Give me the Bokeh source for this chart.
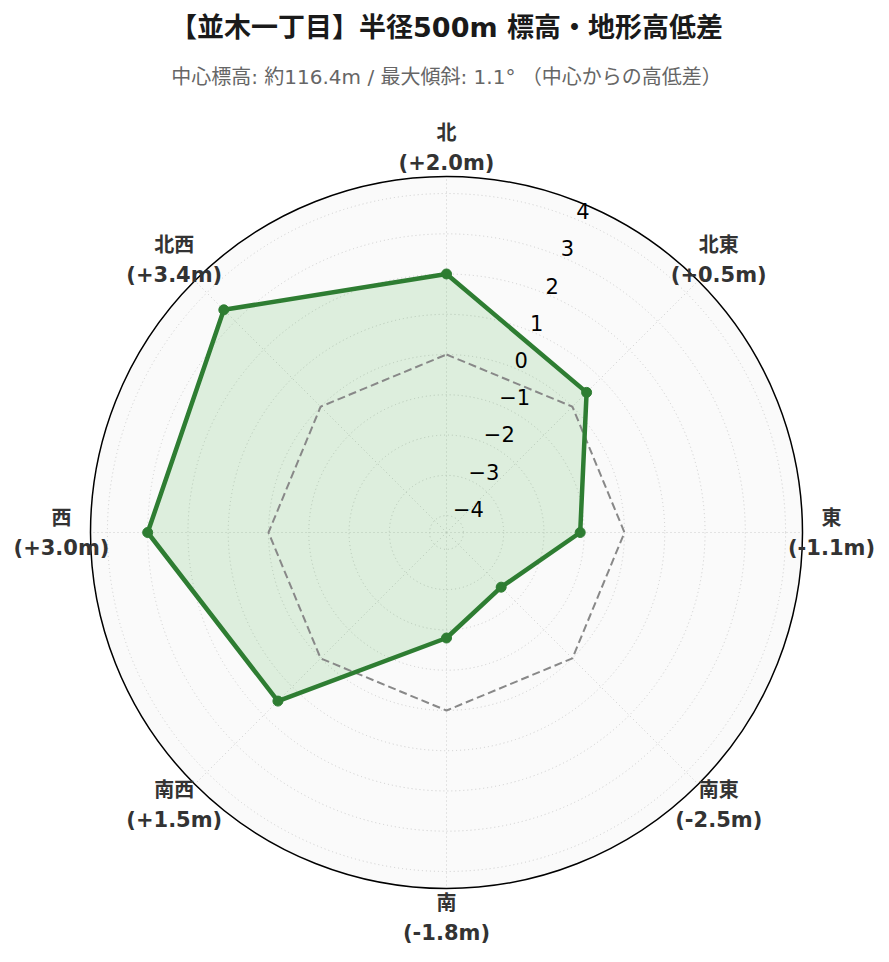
import numpy as np
from bokeh.plotting import figure
from bokeh.models import Range1d
from bokeh.embed import file_html
from bokeh.resources import INLINE
from bokeh.core.properties import value

# ---- data ----
title_text = "【並木一丁目】半径500m 標高・地形高低差"
subtitle_text = "中心標高: 約116.4m / 最大傾斜: 1.1° （中心からの高低差）"
directions = ["北", "北東", "東", "南東", "南", "南西", "西", "北西"]
diffs = [2.0, 0.5, -1.1, -2.5, -1.8, 1.5, 3.0, 3.4]
radial_ticks = [-4, -3, -2, -1, 0, 1, 2, 3, 4]
reference_level = 0.0
r_limit = 4.42

# ---- layout ----
W, H = 881, 954
CX, CY = 446, 532          # polar centre, measured from figure's top-left
R = 356                    # outer radius in px
LABEL_R = 385
TICK_ANGLE = np.deg2rad(22.5)

GREEN = "#2e7d32"
FONT = "DejaVu Sans, Noto Sans CJK JP"

p = figure(width=W, height=H,
           x_range=Range1d(-CX, W - CX), y_range=Range1d(CY - H, CY),
           x_axis_location=None, y_axis_location=None,
           output_backend="svg", toolbar_location=None, min_border=0)
p.grid.visible = False
p.outline_line_color = None
p.background_fill_color = "white"
p.border_fill_color = "white"


def rad(v):
    return (np.asarray(v, dtype=float) + r_limit) / (2 * r_limit) * R


n = len(directions)
theta = np.arange(n) * 2 * np.pi / n
sin_t, cos_t = np.sin(theta), np.cos(theta)

# background disc
p.circle(x=[0], y=[0], radius=R, fill_color="#fafafa", line_color=None)

# grid circles and spokes
gr = rad(radial_ticks)
p.circle(x=np.zeros(len(gr)), y=np.zeros(len(gr)), radius=gr,
         fill_color=None, line_color="#cccccc", line_width=1, line_dash="1 3")
p.segment(x0=np.zeros(n), y0=np.zeros(n), x1=R * sin_t, y1=R * cos_t,
          line_color="#cccccc", line_width=1, line_dash="1 3")

# data polygon
rd = rad(diffs)
xs, ys = rd * sin_t, rd * cos_t
p.patch(x=xs, y=ys, fill_color="#4caf50", fill_alpha=0.17, line_color=None)

# reference (0 m) polygon
rr = rad(np.full(n, reference_level))
p.line(x=np.append(rr * sin_t, rr * sin_t[0]), y=np.append(rr * cos_t, rr * cos_t[0]),
       line_color="#888888", line_width=2, line_dash="8 4")

p.line(x=np.append(xs, xs[0]), y=np.append(ys, ys[0]), line_color=GREEN, line_width=4.5,
       line_join="round")
p.scatter(x=xs, y=ys, size=10, fill_color=GREEN, line_color=GREEN)

# outer ring
p.circle(x=[0], y=[0], radius=R, fill_color=None, line_color="black", line_width=1.5)

# radial tick labels
p.text(x=gr * np.sin(TICK_ANGLE), y=gr * np.cos(TICK_ANGLE),
       text=[str(t).replace("-", "\u2212") for t in radial_ticks],
       text_align="left", text_baseline="bottom",
       text_font=value(FONT), text_font_size="21px", text_color="black")

# angular labels
lx, ly = LABEL_R * sin_t, LABEL_R * cos_t
p.text(x=lx, y=ly + 15, text=directions, text_align="center", text_baseline="middle",
       text_font=value(FONT), text_font_style="bold", text_font_size="20px", text_color="#333333")
p.text(x=lx, y=ly - 15, text=[f"({d:+.1f}m)" for d in diffs],
       text_align="center", text_baseline="middle",
       text_font=value(FONT), text_font_style="bold", text_font_size="21px", text_color="#333333")

# titles
p.text(x=[0], y=[CY - 27], text=[title_text], text_align="center", text_baseline="middle",
       text_font=value(FONT), text_font_style="bold", text_font_size="27px", text_color="#1a1a1a")
p.text(x=[0], y=[CY - 76], text=[subtitle_text], text_align="center", text_baseline="middle",
       text_font=value(FONT), text_font_size="20px", text_color="#666666")

open("out.html", "w").write(file_html(p, INLINE))
